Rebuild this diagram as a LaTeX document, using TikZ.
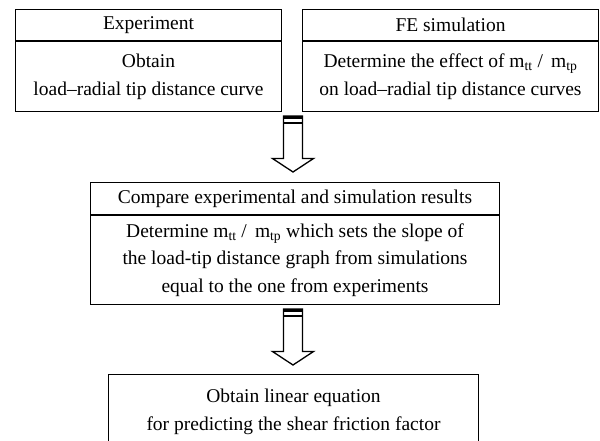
\documentclass[tikz,border=0pt]{standalone}
\usepackage{fontspec}
\setmainfont{Liberation Serif}
\usetikzlibrary{calc}

\tikzset{
  box/.style={draw, line width=1pt, inner sep=0pt, align=center,
    font=\fontsize{19.5}{27.5}\selectfont},
  arrowline/.style={line width=1.3pt, line join=miter},
}
% hollow block arrow from #1 (top) to #2 (tip)
\newcommand\flowarrow[2]{%
  \draw[arrowline, fill=white] let \p1=(#1), \p2=(#2) in
    (\x1-9.5pt,\y1) -- (\x1-9.5pt,\y2+13.5pt) -- (\x1-20.5pt,\y2+13.5pt)
    -- (\x1,\y2) -- (\x1+20.5pt,\y2+13.5pt) -- (\x1+9.5pt,\y2+13.5pt)
    -- (\x1+9.5pt,\y1) -- cycle;
  \draw[line width=2.6pt] let \p1=(#1) in
    (\x1-9.5pt,\y1-1.5pt) -- (\x1+9.5pt,\y1-1.5pt)
    (\x1-9.5pt,\y1-7pt) -- (\x1+9.5pt,\y1-7pt);
}
\newcommand\mratio{m\textsubscript{tt} / \,m\textsubscript{tp}}

\begin{document}
\begin{tikzpicture}[x=1pt, y=-1pt]
  \clip (0,0) rectangle (600,441);

  % Experiment
  \node[box, anchor=north west, minimum width=266pt, minimum height=31.5pt] (exptitle) at (15,9) {Experiment};
  \node[box, anchor=north, minimum width=266pt, minimum height=69.5pt] (expbody) at (exptitle.south) {Obtain\\load--radial tip distance curve};

  % FE simulation
  \node[box, anchor=north west, minimum width=296pt, minimum height=31.5pt] (fetitle) at (302,9) {FE simulation};
  \node[box, anchor=north, minimum width=296pt, minimum height=69.5pt] (febody) at (fetitle.south) {Determine the effect of \mratio\\on load--radial tip distance curves};

  % Compare
  \node[box, anchor=north west, minimum width=409pt, minimum height=32pt] (cmptitle) at (90,182) {Compare experimental and simulation results};
  \node[box, anchor=north, minimum width=409pt, minimum height=89pt] (cmpbody) at (cmptitle.south) {Determine \mratio\ which sets the slope of\\the load-tip distance graph from simulations\\equal to the one from experiments};

  % Obtain
  \node[box, anchor=north west, minimum width=370pt, minimum height=90pt, text depth=20pt] (result) at (108,374) {Obtain linear equation\\for predicting the shear friction factor};

  % arrows
  \coordinate (arrA) at (293,116);
  \coordinate (arrB) at (293,309);
  \flowarrow{arrA}{$(cmptitle.north)+(0,-10)$}
  \flowarrow{arrB}{$(result.north)+(0,-9)$}
\end{tikzpicture}
\end{document}
